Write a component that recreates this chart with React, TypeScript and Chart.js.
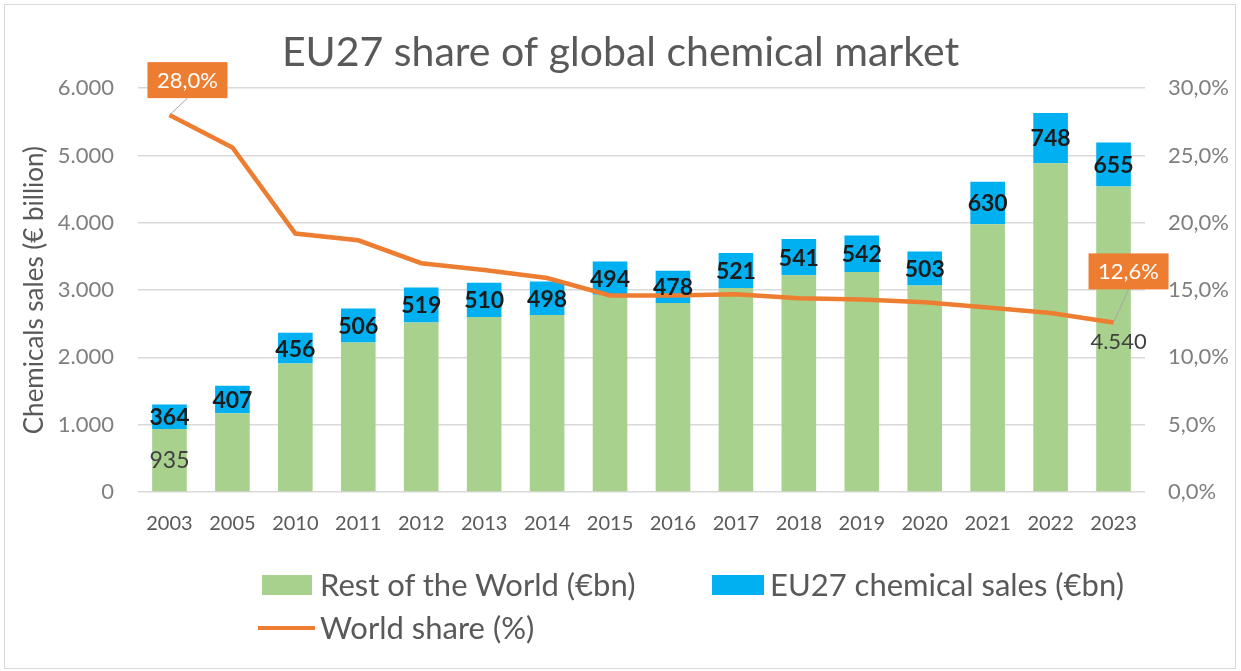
import React, { useEffect, useRef } from "react";
import { Chart, registerables } from "chart.js";

Chart.register(...registerables);

const categories = ["2003", "2005", "2010", "2011", "2012", "2013", "2014", "2015", "2016", "2017", "2018", "2019", "2020", "2021", "2022", "2023"];
const restOfWorld = [935, 1170, 1910, 2220, 2520, 2600, 2630, 2930, 2810, 3030, 3220, 3270, 3070, 3980, 4885, 4540];
const eu27Sales = [364, 407, 456, 506, 519, 510, 498, 494, 478, 521, 541, 542, 503, 630, 748, 655];
const worldShare = [28.0, 25.6, 19.2, 18.7, 17.0, 16.5, 15.9, 14.6, 14.6, 14.7, 14.4, 14.3, 14.1, 13.7, 13.3, 12.6];
const restLabelIndex = [0, 15];
const shareCalloutIndex = [0, 15];

const titleText = "EU27 share of global chemical market";
const leftAxisTitle = "Chemicals sales (€ billion)";
const legendLabels = ["Rest of the World (€bn)", "EU27 chemical sales (€bn)", "World share (%)"];

const GREEN = "#A9D18E";
const BLUE = "#00B0F0";
const ORANGE = "#ED7D31";
const FONT = "Lato, 'Open Sans', sans-serif";

const fmtThousands = (v: number) => String(Math.round(v)).replace(/\B(?=(\d{3})+(?!\d))/g, ".");
const fmtPct = (v: number) => v.toFixed(1).replace(".", ",") + "%";

const labelPlugin = {
  id: "valueLabels",
  afterDatasetsDraw(chart: any) {
    const ctx = chart.ctx;
    ctx.save();
    ctx.textAlign = "center";
    ctx.textBaseline = "middle";
    const euMeta = chart.getDatasetMeta(1);
    ctx.font = `bold 23px ${FONT}`;
    ctx.fillStyle = "#1b1b1b";
    euMeta.data.forEach((bar: any, i: number) => {
      ctx.fillText(String(eu27Sales[i]), bar.x, (bar.y + bar.base) / 2 + 1);
    });
    const rMeta = chart.getDatasetMeta(0);
    const lMeta = chart.getDatasetMeta(2);
    ctx.fillStyle = "#404040";
    restLabelIndex.forEach((i) => {
      const bar = rMeta.data[i];
      if (i === 0) {
        ctx.font = `23px ${FONT}`;
        ctx.fillText(fmtThousands(restOfWorld[i]), bar.x, (bar.y + bar.base) / 2);
      } else {
        const pt = lMeta.data[i];
        ctx.font = `22px ${FONT}`;
        ctx.fillText(fmtThousands(restOfWorld[i]), pt.x + 5, pt.y + 20);
      }
    });
    shareCalloutIndex.forEach((i, k) => {
      const pt = lMeta.data[i];
      const cx = pt.x + (k === 0 ? 18 : 15);
      const cy = pt.y + (k === 0 ? -35 : -51);
      const w = 80, h = 36;
      ctx.strokeStyle = "#a6a6a6";
      ctx.lineWidth = 1;
      ctx.beginPath();
      ctx.moveTo(pt.x, pt.y);
      ctx.lineTo(cx, cy + h / 2);
      ctx.stroke();
      ctx.fillStyle = ORANGE;
      ctx.fillRect(cx - w / 2, cy - h / 2, w, h);
      ctx.fillStyle = "#ffffff";
      ctx.font = `22px ${FONT}`;
      ctx.fillText(fmtPct(worldShare[i]), cx, cy + 1);
    });
    ctx.restore();
  },
};

export default function App() {
  const canvasRef = useRef<HTMLCanvasElement | null>(null);

  useEffect(() => {
    if (!canvasRef.current) return;
    const chart = new Chart(canvasRef.current, {
      type: "bar",
      data: {
        labels: categories,
        datasets: [
          {
            type: "bar",
            label: legendLabels[0],
            data: restOfWorld,
            backgroundColor: GREEN,
            stack: "s",
            yAxisID: "y",
            order: 1,
            barPercentage: 0.55,
            categoryPercentage: 1,
          },
          {
            type: "bar",
            label: legendLabels[1],
            data: eu27Sales,
            backgroundColor: BLUE,
            stack: "s",
            yAxisID: "y",
            order: 1,
            barPercentage: 0.55,
            categoryPercentage: 1,
          },
          {
            type: "line",
            label: legendLabels[2],
            data: worldShare,
            borderColor: ORANGE,
            backgroundColor: ORANGE,
            borderWidth: 4.5,
            pointRadius: 0,
            tension: 0,
            yAxisID: "y1",
            order: 0,
          } as any,
        ],
      },
      options: {
        animation: false,
        responsive: true,
        maintainAspectRatio: false,
        layout: { padding: { left: 0, right: 0, top: 0, bottom: 119 } },
        plugins: {
          legend: { display: false },
          tooltip: { enabled: false },
          title: {
            display: true,
            text: titleText,
            color: "#595959",
            font: { family: FONT, size: 41, weight: "normal" },
            padding: { top: 28, bottom: 11 },
          },
        },
        scales: {
          x: {
            stacked: true,
            grid: { display: false, drawTicks: false },
            border: { display: false },
            ticks: { color: "#595959", font: { family: FONT, size: 20 }, padding: 20, maxRotation: 0 },
            afterFit: (s: any) => { s.height = 60; },
          },
          y: {
            stacked: true,
            position: "left",
            min: 0,
            max: 6000,
            ticks: { stepSize: 1000, color: "#7f7f7f", font: { family: FONT, size: 22 }, padding: 24, callback: (v: any) => fmtThousands(Number(v)) },
            grid: { color: "#d9d9d9", lineWidth: 1.5, drawTicks: false },
            border: { display: false },
            title: { display: true, text: leftAxisTitle, color: "#595959", font: { family: FONT, size: 26 }, padding: { top: 19 } },
            afterFit: (s: any) => { s.width = 138; },
          },
          y1: {
            position: "right",
            min: 0,
            max: 30,
            ticks: { stepSize: 5, color: "#7f7f7f", font: { family: FONT, size: 22 }, padding: 23, callback: (v: any) => fmtPct(Number(v)) },
            grid: { display: false, drawTicks: false },
            border: { display: false },
            afterFit: (s: any) => { s.width = 96; },
          },
        },
      },
      plugins: [labelPlugin],
    } as any);
    return () => chart.destroy();
  }, []);

  const legendText: React.CSSProperties = {
    position: "absolute",
    fontFamily: FONT,
    fontSize: 31,
    color: "#595959",
    lineHeight: "36px",
    whiteSpace: "nowrap",
  };

  return (
    <div style={{ position: "fixed", left: 0, top: 0, width: 1241, height: 671, background: "#fff" }}>
      <div style={{ position: "absolute", left: 0, top: 0, width: 1241, height: 671 }}>
        <canvas ref={canvasRef} />
      </div>
      <div style={{ position: "absolute", left: 4, top: 4, width: 1230, height: 663, border: "1px solid #d9d9d9", pointerEvents: "none" }} />
      <div style={{ position: "absolute", left: 262, top: 575, width: 50, height: 20, background: GREEN }} />
      <div style={{ ...legendText, left: 320, top: 566 }}>{legendLabels[0]}</div>
      <div style={{ position: "absolute", left: 712, top: 575, width: 52, height: 20, background: BLUE }} />
      <div style={{ ...legendText, left: 770, top: 566 }}>{legendLabels[1]}</div>
      <div style={{ position: "absolute", left: 258, top: 626, width: 57, height: 4, background: ORANGE }} />
      <div style={{ ...legendText, left: 320, top: 609 }}>{legendLabels[2]}</div>
    </div>
  );
}
